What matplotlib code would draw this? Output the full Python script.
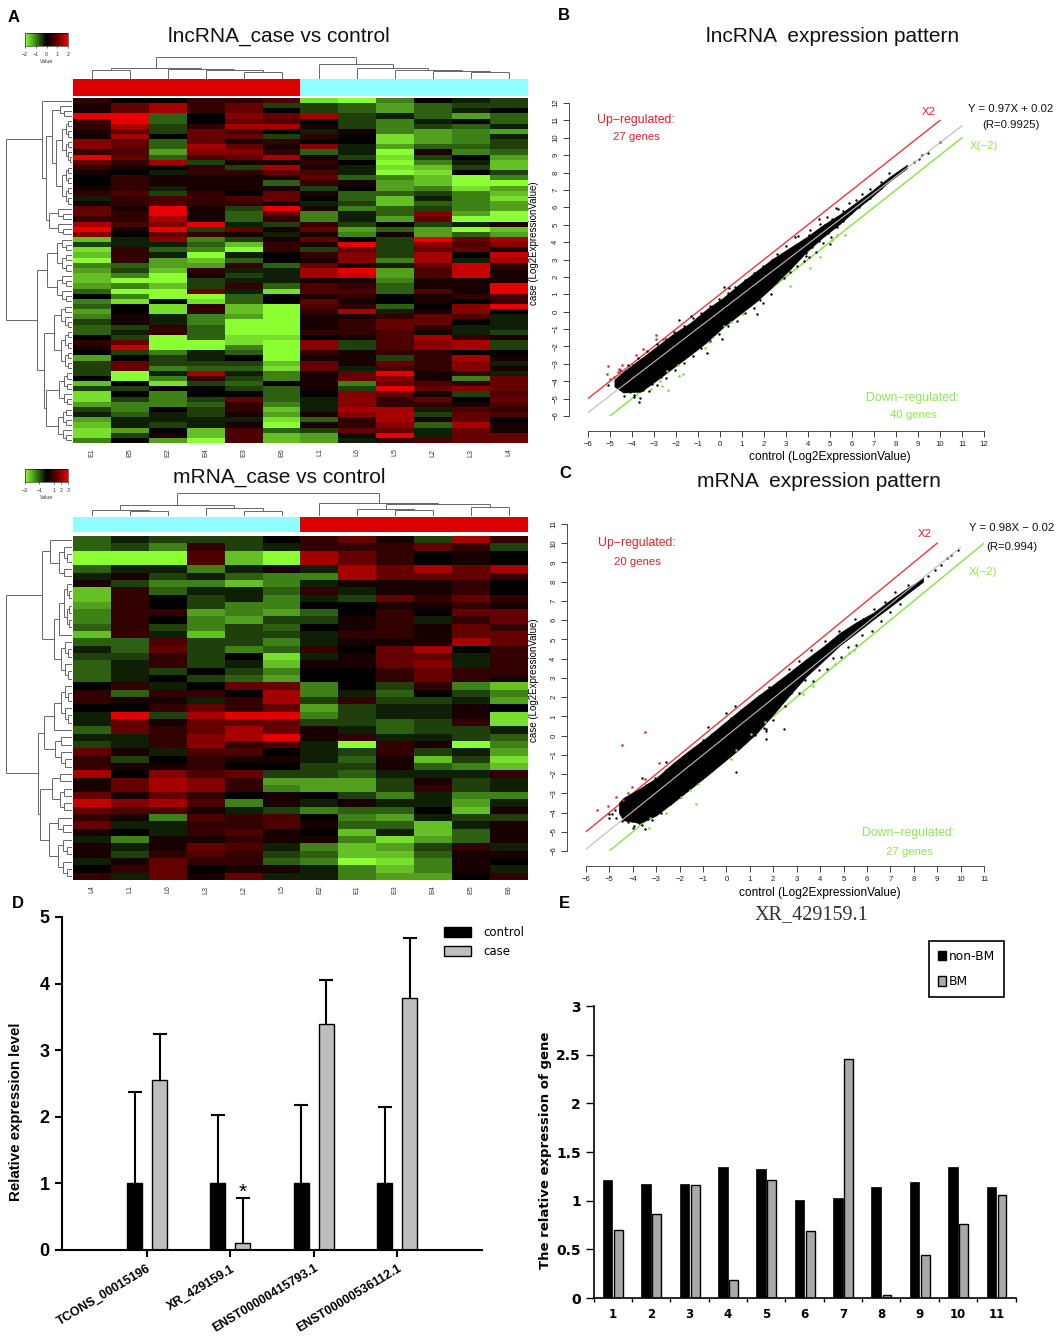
import numpy as np
import matplotlib
matplotlib.use("Agg")
import matplotlib.pyplot as plt
from matplotlib.colors import LinearSegmentedColormap, ListedColormap, Normalize
from matplotlib.cm import ScalarMappable
from matplotlib.collections import LineCollection
from matplotlib.patches import Patch

plt.rcParams['font.family'] = ['Liberation Sans', 'DejaVu Sans']

W, H = 1057, 1339

# ---------------- heatmap data (scale -4 .. 4) ----------------
cols_a = ['E1','E5','E2','E4','E3','E6','L1','L6','L5','L2','L3','L4']
cols_b = ['L4','L1','L6','L3','L2','L5','E2','E1','E3','E4','E5','E6']
groups_a = [0]*6 + [1]*6
groups_b = [1]*6 + [0]*6

heat_a = [
[1,0,0,1,1,1.5,-3.5,-4,-2,0,-.5,-1],
[.5,2,3,1,2,-1,-1,-1.5,-2.5,-1.5,-1,-1],
[.5,2,3,1,2,0,-1,-1.5,-2.5,-1.5,-.5,0],
[4,4,-1.5,0,2.5,2,3,-1,-.5,-1.5,-2.5,-1.5],
[1,4,-1.5,0,2,1.5,0,-1,-2,-.5,0,-1.5],
[1,3,-1,1,3,3,.5,-1,-2,-1,-1.5,-.5],
[.5,2,-1,2,1.5,0,-.5,.5,-2,-2.5,-2,-2.5],
[.5,3,0,2,2,-1,1,0,-3.5,-2.5,-2,-.5],
[2.5,2,-1.5,2,.5,1,0,0,-3.5,-2.5,-2,-1],
[2.5,2,-1.5,3,2,.5,2.5,-.5,-2.5,-1.5,-1.5,-1],
[1,1.5,-2.5,2.5,2.5,1,-1.5,-.5,-4,.5,-2,-1.5],
[4,2,-1.5,1.5,2,3,.5,-1,-3.5,-1,0,-2.5],
[2,1,3,-1,.5,.5,1,0,-4,-2,-.5,-3],
[1,.5,0,1,-1,3,.5,-.5,-3.5,-3,-1,-3],
[.5,0,-.5,1,1,2,1.5,-.5,-4,-3.5,0,-1],
[0,1,.5,.5,.5,.5,2,-1.5,-2,-3,-4,-2],
[0,1,.5,.5,.5,-1.5,1,.5,-2.5,-3,-4,-4],
[.5,1,-.5,.5,.5,.5,-1,0,-2.5,-2,-3.5,-2.5],
[1,1.5,-1,1,0,2,.5,-1.5,-1.5,-1,-2,-3],
[-.5,1,1.5,1,1.5,2,0,-1.5,-3,-.5,-2,-3.5],
[.5,1,1.5,1,1,.5,-.5,-1,-3,-1.5,-2,-2.5],
[2,.5,4,.5,-1,4,.5,-2,-1.5,-1,-2,-2.5],
[2,1,4,.5,-1.5,2,-2,-.5,-1.5,2.5,-2.5,-4],
[1,1,3,.5,-1.5,1,-2,-.5,-2.5,2,-4,-4],
[3,1.5,2.5,4,-.5,-1,1,-1,0,-1,-.5,.5],
[4,.5,4,-1,2,.5,2,-2.5,-1.5,-2.5,-4,-3],
[2.5,0,2,1,.5,-.5,.5,-2,.5,-2.5,-1.5,-2.5],
[-3,-.5,2.5,-2,-1,.5,2,0,-1,4,2,3],
[-1,-.5,-.5,-1.5,-3,1,.5,4,-1,2.5,1.5,2.5],
[-3.5,1,-1.5,-2,-4,1,-1,2,-1,2,2,.5],
[-3,1,-.5,-4,-.5,0,1,2.5,-1,3,0,3.5],
[-4,1,-2.5,-3,-1.5,0,.5,2.5,-2,3,-.5,3],
[-2,-1.5,-2.5,-2.5,1,-1.5,2,.5,-.5,2,3.5,1],
[-2.5,-1,-3,1,-.5,-.5,3,4,-2.5,1.5,3.5,.5],
[-3,-2,-4,.5,-1,-.5,3,3.5,-2.5,1.5,3.5,.5],
[-3,-4,-4,-1,-.5,-.5,.5,.5,-2,.5,.5,.5],
[-2.5,-2,-3,-1,1,-1.5,1.5,1,-1.5,.5,.5,4],
[-1.5,-4,-4,2,-.5,-3.5,1.5,1.5,-1.5,1.5,.5,4],
[0,-2,-4,-4,-1.5,0,.5,1,0,.5,1,1.5],
[-2,-3.5,0,-3.5,-1.5,0,2,.5,0,.5,0,1],
[-1.5,0,-3.5,1,-3,-4,1.5,1,-1.5,0,2.5,4],
[-2.5,0,-3.5,1,-3,-4,1,3,-.5,.5,2.5,0],
[-2,.5,-.5,-2,-2.5,-4,.5,.5,1,2,1.5,-.5],
[-1,.5,-.5,-2,-4,-4,.5,1,2,2,0,-.5],
[-1.5,-1,1,-1.5,-4,-4,.5,1,2,1,-.5,-.5],
[-1.5,-.5,1,-1.5,-4,-4,1,1,1.5,.5,-.5,-1],
[0,-1,-4,-1.5,-3.5,-3.5,0,.5,1.5,3,1,.5],
[1,2,-4,-4,-3.5,-4,2.5,-1,1.5,2.5,3,-1],
[.5,3.5,-4,-4,-2,-4,2.5,-1,1.5,2.5,3,-1],
[0,-1,-2,-.5,-1.5,-4,1,.5,1,1,0,0],
[-2.5,0,-1,-.5,0,-4,.5,.5,-1,1,3,.5],
[-1,2,-1,-1,-1,-3,2,.5,2,1,2.5,-.5],
[-1,2,-2,-1.5,-1.5,-3.5,2,-.5,1.5,1,2.5,.5],
[-1,-4,-.5,3,-.5,-2,.5,2,4,.5,1,-.5],
[0,-4,-2,1,-1,-2,.5,2,2.5,.5,-2,2],
[-3,0,-3.5,-1,-1.5,0,.5,-2,2,1.5,1,2],
[-1,-1,0,0,-1,-1.5,.5,-1,4,2,2.5,2],
[-3.5,0,-2,0,0,-1.5,0,2.5,2,.5,-1,1.5],
[-3.5,-1,-2,-1,2,-1.5,-.5,2.5,1,2,0,2],
[-2.5,-2,-2,-1.5,1,-2,-.5,2.5,1,1,.5,1.5],
[-1,-2,0,-1,1,-3,-.5,3,3,-.5,1.5,1],
[-.5,-1.5,-.5,-1,.5,-2.5,.5,2.5,3,-1,2,1.5],
[-2.5,-.5,-.5,-.5,-.5,-3.5,-1.5,1,3,.5,2,0],
[-3,-.5,-1,-.5,.5,-4,.5,1,2.5,-1.5,3,.5],
[-3.5,-2.5,0,-3,1.5,-1.5,-1,2,2,-.5,2,.5],
[-3.5,-1,.5,-3,1.5,-3,-2.5,.5,4,-.5,2,2],
[-2,0,-2.5,-4,1.5,-3,-2.5,-.5,1,1.5,2,2],
]

heat_b = [
[-1.5,-.5,-1,-1,-1,0,1,2,.5,-1,3,1],
[-1.5,-1,-2,1,-1,-.5,1,1,1,2,1,-1],
[-4,-4,-4,1.5,-3,-4,3,2,1,0,.5,0],
[-4,-4,-4,1.5,-3,-4,3,2,1,0,.5,0],
[-1.5,-.5,-.5,-2,-.5,.5,-.5,3,2,3,2,3],
[-.5,.5,-1,-.5,-1.5,-2,-2,3,2,2,2,1],
[.5,-1,-2,-2,-3,-2,-.5,.5,.5,.5,1,0],
[-3,1,-1.5,-.5,-.5,-1.5,1,-.5,.5,.5,1,0],
[-3,1,0,-1,-.5,-2,-.5,-1,2,1,2,1],
[-2.5,1,0,-1,-2,-2,0,0,.5,.5,1,.5],
[-2,1,1,-2.5,-2,-2.5,-1.5,0,1,0,2,2],
[-2,1,0,-2,-2.5,-1,-1,.5,1,-.5,1,2],
[-1.5,1,-1,-2,-1,-1.5,0,.5,1,.5,2,1],
[-3,1,-.5,-3,-1,-1,-.5,1,1,.5,2,2],
[-1.5,-1.5,1.5,-1,-1,-2,-.5,.5,.5,.5,3,2],
[-.5,-1.5,2,-1,-2,-1.5,1,0,2,3,0,1],
[-1,-1,1,-1,0,-3.5,-.5,.5,2,2,-.5,1],
[-1.5,-.5,1,-1,-.5,-3,.5,.5,2,2.5,-.5,1],
[-1.5,-.5,-1,0,-1,-2,0,0,1,2,1,1],
[-1.5,-.5,0,-1,-1.5,-2.5,0,0,1,2,1,.5],
[0,1,-.5,0,2,2,-2,0,-1,1,-2,-3],
[1,-1.5,1,1,0,3,-2,-.5,-1.5,0,-1,-2],
[1,.5,.5,-.5,1,3,-1,1,-1,-1,-.5,-2.5],
[0,0,1,2,1,2,-2.5,-1,-.5,-.5,.5,0],
[-.5,4,-1,3,4,4,-2,-1,-.5,-.5,.5,-3.5],
[-.5,2,.5,2,2,2,-1,-1,-1.5,-1,1,-3.5],
[-1.5,2,1,2,3,2,.5,-.5,-1.5,-1,-1,-.5],
[-.5,-.5,1,2.5,3,4,.5,1,-.5,-.5,-1,-1.5],
[-1,-.5,1,2.5,1,1.5,-.5,-4,1,.5,-4,-2],
[2,.5,-.5,1.5,1.5,0,-.5,-1,1,-1,-.5,-2.5],
[1,-1,0,1,.5,.5,-.5,-1.5,.5,-3,-1,-3.5],
[1,.5,.5,1,0,0,-1,-1,.5,-1.5,-2,-3],
[3,0,2.5,1.5,2,-1,-1,-1.5,-.5,-.5,-.5,1],
[.5,2,3,2.5,1,-2.5,-2.5,-2.5,-1,.5,-1,-.5],
[.5,2,3,2.5,1,-2,-2.5,-2.5,-1,1,-1,-.5],
[2,.5,2,1,0,.5,0,-1,-2,-.5,-2,-2],
[3.5,2.5,3,1.5,-2,.5,-.5,.5,-.5,-.5,-2.5,-.5],
[2,1.5,1.5,.5,-.5,-1,-2,-1.5,-1.5,0,-3,.5],
[1,.5,-2,1.5,1,1.5,0,-2,-2.5,-.5,-1,-1],
[2,-.5,-.5,1,1,1.5,.5,-1.5,-1.5,-3,-.5,.5],
[.5,0,-.5,1,1.5,.5,0,-3,-.5,-3,-1.5,.5],
[-.5,-2,.5,.5,1,.5,.5,-2,-3.5,-2.5,-1.5,.5],
[.5,-.5,.5,2,1.5,-.5,-2,-3,-2.5,-1,1,-.5],
[.5,-1,1,1.5,1,-1,-1.5,-3,-3,-1.5,.5,.5],
[-.5,.5,2,1,1,-1.5,-2,-4,-3.5,-2,.5,0],
[0,1,2,0,.5,.5,-.5,-2,-3,-2,.5,-.5],
[1,-.5,2,.5,2,-.5,-.5,-2,-2.5,-2.5,0,1],
]

# dendrograms: [height, left, right]; an integer is a block of that many leaves
col_tree_a = [1, [.52,[.41,1,1],[.47,1,[.41,1,[.34,1,1]]]],
                 [.71,1,[.49,1,[.41,1,[.37,1,[.31,1,1]]]]]]
col_tree_b = [1, [.47,[.26,1,[.2,1,1]],[.36,1,[.21,1,1]]],
                 [.57,1,[.54,[.33,1,[.26,1,1]],[.4,1,1]]]]
row_tree_a = [1, [.45, 1, [.4, [.3, 3, [.25, 9, 8]], [.35, 3, 3]]],
                 [.53, [.38, 7, 6], [.42, [.28, 5, 8], [.4, [.2, 4, 3], [.22, 4, 3]]]]]
row_tree_b = [1, [.45, [.33, 1, [.2, 3, 2]], [.27, [.2, 7, 1], 6]],
                 [.52, [.42, [.28, 6, 1], 5], [.48, [.3, 2, 4], [.35, 3, 6]]]]

# ---------------- scatter data: dense core outline and individually read points ----------------
band_b_x  = [-4.8,-4.4,-3.6,-2.88,-2.1,-1.36,-.6,.14,.9,1.67,2.4,3.2,3.94,4.7,5.45,6.2,6.95,7.7,8.5]
band_b_up = [-3.9,-3.45,-2.7,-2.0,-1.25,-.65,.15,.8,1.6,2.35,3.05,3.7,4.3,5.0,5.6,6.3,7.0,7.75,8.45]
band_b_lo = [-4.3,-4.65,-4.6,-3.95,-3.2,-2.5,-1.75,-.9,-.15,.6,1.45,2.45,3.45,4.3,5.05,5.9,6.65,7.5,8.25]
fringe_b_up_x = [-4.55,-4.3,-4.2,-3.95,-3.75,-3.55,-3.3,-3.15,-2.85,-2.7,-2.45,-2.3,-2.1,-1.95,-1.65,-1.5,-1.25,-1.1,-.85,-.75,-.45,-.3,-.05,.1,.35,.55,.7,.95,1.15,1.3,1.55,1.7,1.95,2.1,2.35,2.6,2.85,3,3.2,3.45,3.55,3.8,4.05,4.1,4.35,4.55,4.75,4.85,5.1,5.35,5.6,5.85,6.2,6.45,6.8,7.3,7.7]
fringe_b_up_y = [-3.35,-3.45,-3.05,-3.05,-2.65,-2.75,-2.25,-2.35,-1.85,-2.0,-1.55,-1.6,-1.15,-1.4,-.8,-.95,-.35,-.6,-.1,-.2,.3,.1,.7,.5,1.1,.95,1.4,1.35,1.8,1.65,2.25,2.05,2.6,2.45,2.95,3.3,3.2,3.75,3.5,3.85,4.35,4.15,4.4,4.7,4.6,5.05,5,5.45,5.35,5.9,5.8,6.25,6.4,6.75,7.05,7.45,7.95]
fringe_b_lo_x = [-4.35,-4.1,-3.9,-3.65,-3.5,-3.25,-3.1,-2.85,-2.7,-2.45,-2.3,-2.05,-1.9,-1.65,-1.5,-1.25,-1.1,-.85,-.7,-.45,-.3,-.05,.1,.35,.5,.75,.9,1.15,1.3,1.55,1.7,1.95,2.1,2.3,2.55,2.75,2.9,3.05,3.2,3.35,3.5,3.65,3.8,3.9,4.05,4.2,4.35,4.5,4.7,4.9,5.05,5.3,5.6,5.95,6.3,6.8,7.3]
fringe_b_lo_y = [-4.85,-4.6,-4.8,-4.95,-4.5,-4.55,-4.15,-4.2,-3.75,-3.8,-3.3,-3.35,-2.95,-2.95,-2.5,-2.55,-2.05,-2.1,-1.65,-1.7,-1.2,-1.3,-.75,-.8,-.35,-.55,-.05,-.1,.35,.2,.8,.5,1.2,1.0,1.7,2.2,1.95,2.55,2.3,2.9,2.6,3.2,2.9,3.4,3.15,3.7,3.45,4.05,3.95,4.5,4.3,4.85,5.2,5.65,6,6.55,7.1]
black_b_x = [-1.85,-1.3,.2,.4,5.25,3.4,4.5,10,9.45,9.05,1.8,1.7,.1,-.6,-3.7,-3.9,-5.1,8.8,9.2,5,3.9]
black_b_y = [-.5,-.25,1.4,1.35,5.95,4.3,5.35,9.75,9.15,8.8,.65,-.15,-1.55,-2.4,-5.2,-4.9,-4.2,8.6,9,3.9,3.2]
red_b_x = [-5.1,-5.15,-5,-4.8,-4.65,-4.45,-4.6,-2.9,-2.9,-3.5,-3.8,-2.6]
red_b_y = [-3.15,-3.6,-3.9,-3.75,-3.45,-3.05,-3.3,-1.35,-1.6,-2.15,-2.5,-1.55]
green_b_x = [3.2,4.1,4.55,5.7,5.3,5.1,1.05,.5,.2,-.7,-.5,-1.7,-1.85,-2.35,-2.65,-3.15,-1.9,-2.4,-2.75]
green_b_y = [1.45,2.5,3.15,4.4,4.4,4.1,-.15,-.6,-.85,-2.1,-1.75,-3.6,-3.7,-4.5,-4.3,-4.45,-3.05,-3.4,-4]

band_c_x  = [-4.6,-4.42,-3.7,-3,-2.3,-1.57,-.85,-.15,.55,1.27,2,2.7,3.43,4.15,4.85,5.55,6.28,7,7.7,8.4]
band_c_up = [-3.5,-3.25,-2.75,-2.2,-1.45,-.75,-.1,.6,1.3,2,2.65,3.3,4,4.65,5.35,5.9,6.4,7.05,7.65,8.2]
band_c_lo = [-4,-4.4,-4.55,-4.15,-3.5,-2.8,-2.1,-1.4,-.7,.1,1.1,2.1,3.1,3.9,4.7,5.35,6.05,6.7,7.35,8]
fringe_c_up_x = [-5,-4.75,-4.55,-4.3,-4.15,-3.9,-3.7,-3.45,-3.2,-3.05,-2.8,-2.6,-2.35,-2.2,-1.95,-1.8,-1.55,-1.4,-1.15,-1,-.75,-.6,-.35,-.2,.05,.2,.45,.6,.85,1,1.25,1.4,1.65,1.8,2.05,2.2,2.45,2.65,2.8,3.1,3.3,3.6,3.85,4.2,4.45,4.8,5.05,5.5,5.85,6.3,6.75,7.2,7.75]
fringe_c_up_y = [-4.1,-3.85,-3.75,-3.35,-3.4,-3.0,-3.05,-2.55,-2.55,-2.2,-2.1,-1.8,-1.75,-1.45,-1.35,-1.05,-1.0,-.65,-.65,-.25,-.3,.1,.1,.5,.55,.9,.95,1.35,1.35,1.65,1.7,2.05,2.1,2.55,2.5,2.8,2.8,3.45,3.1,3.9,3.6,4.45,4.2,4.9,4.7,5.45,5.35,6.05,6.05,6.6,6.95,7.45,7.85]
fringe_c_lo_x = [-4.7,-4.45,-4.2,-4,-3.75,-3.6,-3.35,-3.2,-2.95,-2.8,-2.55,-2.4,-2.15,-2,-1.75,-1.6,-1.35,-1.2,-.95,-.8,-.55,-.4,-.15,0,.25,.4,.65,.8,1.05,1.2,1.45,1.6,1.85,2,2.2,2.5,2.75,3.1,3.35,3.7,3.95,4.3,4.55,4.9,5.2,5.55,5.8,6.2,6.6,7,7.4]
fringe_c_lo_y = [-4.3,-4.45,-4.5,-4.8,-4.55,-4.65,-4.35,-4.4,-3.95,-4.0,-3.5,-3.55,-3.15,-3.2,-2.75,-2.75,-2.25,-2.3,-1.85,-1.85,-1.45,-1.5,-1.05,-1.0,-.55,-.7,-.2,-.3,.2,.05,.55,.4,1.0,.8,1.5,1.55,2.2,2.2,2.9,2.85,3.4,3.45,4.05,4.1,4.6,4.7,5.25,5.45,5.95,6.4,6.85]
black_c_x = [2.45,1.7,1.7,1.7,.4,-3.5,-3.95,9.9,9.4,.35,0,-.8,-2.6,-3.6,-4.9,-5.0,8.6,8.9,9.15,9.6]
black_c_y = [.35,.35,.25,-.2,-1.9,-4.85,-4.7,9.65,9.25,1.55,1.2,.45,-1.35,-2.2,-4.1,-4.3,8.3,8.6,8.85,9.4]
red_c_x = [-3.5,-4.45,-2.87,-5.53,-5.07,-4.7,-4.2,-4.05,-3.5,-4.4]
red_c_y = [.17,-.5,-1.4,-3.85,-3.65,-3.2,-3,-2.65,-2.25,-3.35]
green_c_x = [-1.3,-1.95,-2.6,-3.3,-3.25,.2,.4,1.05,1.65,3.7,5.25,5.45,4.65,3.25,-1.2,-1.55]
green_c_y = [-3.55,-3.2,-4.05,-4.8,-4.3,-1.2,-.75,.1,.7,2.6,4.3,4.45,3.7,2.15,-2.5,-2.85]

up_line_b_x, up_line_b_y = [-6, 10], [-5, 11]
down_line_b_x, down_line_b_y = [-5, 11], [-6, 10]
fit_line_b_x, fit_line_b_y = [-6, 11], [-5.8, 10.69]
up_line_c_x, up_line_c_y = [-6, 9], [-5, 10]
down_line_c_x, down_line_c_y = [-5, 11], [-6, 10]
fit_line_c_x, fit_line_c_y = [-6, 10], [-5.9, 9.78]

# ---------------- bar data ----------------
genes = ['TCONS_00015196', 'XR_429159.1', 'ENST00000415793.1', 'ENST00000536112.1']
control_vals = [1, 1, 1, 1]
control_tops = [2.37, 2.02, 2.17, 2.15]
case_vals = [2.55, 0.11, 3.39, 3.79]
case_tops = [3.25, 0.78, 4.06, 4.68]

patients = list(range(1, 12))
non_bm = [1.21,1.17,1.17,1.35,1.33,1.01,1.03,1.14,1.19,1.35,1.14]
bm = [.70,.86,1.16,.18,1.21,.69,2.46,.03,.44,.76,1.06]

# ---------------- helpers ----------------
fig = plt.figure(figsize=(W/100, H/100), dpi=100, facecolor='white')

def px_axes(l, t, r, b):
    return fig.add_axes([l/W, 1-b/H, (r-l)/W, (b-t)/H])

def ftext(x, y, s, **kw):
    kw.setdefault('ha', 'center')
    kw.setdefault('va', 'center')
    return fig.text(x/W, 1-y/H, s, **kw)

green_black_red = LinearSegmentedColormap.from_list(
    'gbr', [(0, '#8CFF33'), (.25, '#3F8218'), (.5, '#000000'), (.75, '#640000'), (1, '#E60000')])

def tree_segments(node, start, segs, parent_h=1.0):
    """Returns (centre, height, next free leaf)."""
    if isinstance(node, int):
        if node == 1:
            return start + .5, 0.0, start + 1
        h = parent_h * .62
        node = [h, node // 2, node - node // 2]
    h, a, b = node
    ca, ha, nxt = tree_segments(a, start, segs, h)
    cb, hb, nxt = tree_segments(b, nxt, segs, h)
    segs += [[(ca, ha), (ca, h)], [(cb, hb), (cb, h)], [(ca, h), (cb, h)]]
    return (ca + cb) / 2, h, nxt

def dendro(ax, tree, n, horizontal):
    segs = []
    tree_segments(tree, 0, segs)
    if horizontal:
        segs = [[(y, x) for x, y in s] for s in segs]
        ax.set_xlim(1.02, 0)
        ax.set_ylim(n, 0)
    else:
        ax.set_xlim(0, n)
        ax.set_ylim(0, 1.02)
    ax.add_collection(LineCollection(segs, colors='#666666', linewidths=.7))
    ax.axis('off')

def heat_panel(data, cols, groups, top_tree, row_tree, title, title_y, key_ticks,
               key_lim, key_top, dend_top, dend_bot, bar_top, bar_bot, hm_top, hm_bot):
    L, R = 73, 528
    ax = px_axes(L, hm_top, R, hm_bot)
    ax.imshow(np.array(data), cmap=green_black_red, vmin=-4, vmax=4,
              aspect='auto', interpolation='nearest')
    ax.set_yticks([])
    ax.set_xticks(range(12), cols, rotation=90, fontsize=5, color='#333333')
    ax.tick_params(axis='x', length=0, pad=4)
    for s in ax.spines.values():
        s.set_visible(False)

    axg = px_axes(L, bar_top, R, bar_bot)
    axg.imshow([groups], cmap=ListedColormap(['#DD0000', '#8FFFFF']), vmin=0, vmax=1,
               aspect='auto', interpolation='nearest')
    axg.axis('off')

    axd = px_axes(L, dend_top, R, dend_bot)
    dendro(axd, top_tree, 12, False)
    axr = px_axes(5, hm_top, L - 1, hm_bot)
    dendro(axr, row_tree, len(data), True)

    axk = px_axes(25, key_top, 68, key_top + 13)
    cb = fig.colorbar(ScalarMappable(Normalize(*key_lim), green_black_red), cax=axk,
                      orientation='horizontal', ticks=key_ticks)
    cb.ax.tick_params(labelsize=3.8, length=1.5, width=.4, pad=3, labelcolor='#333333')
    cb.outline.set_linewidth(.4)
    cb.set_label('Value', fontsize=3.8, labelpad=1.5, color='#333333')

    ftext(279, title_y, title, fontsize=15, color='#111111')

heat_panel(heat_a, cols_a, groups_a, col_tree_a, row_tree_a, 'lncRNA_case vs control', 36,
           [-2,-1,0,1,2], (-2,2), 33, 57, 79, 79, 96, 98, 443)
heat_panel(heat_b, cols_b, groups_b, col_tree_b, row_tree_b, 'mRNA_case vs control', 477,
           [-3,-1,1,2,3], (-3,3), 469, 493, 516, 517, 532, 536, 880)

def scatter_panel(box, lim, ticks, band, fringe_up, fringe_lo, blk, red, grn, up, down, fit, xoff, yoff):
    ax = px_axes(*box)
    ax.patch.set_alpha(0)
    ax.set_xlim(*lim)
    ax.set_ylim(*lim)
    ax.fill_between(band[0], band[1], band[2], color='black', lw=.4, zorder=2)
    for pts in (fringe_up, fringe_lo, blk):
        ax.scatter(*pts, s=3, c='black', lw=0, zorder=2)
    ax.scatter(*red, s=3.5, c='#E03030', lw=0, zorder=3)
    ax.scatter(*grn, s=3.5, c='#7FE040', lw=0, zorder=3)
    ax.plot(*up, color='#E8383C', lw=1, zorder=1)
    ax.plot(*down, color='#80E63C', lw=1, zorder=1)
    ax.plot(*fit, color='#BDBDBD', lw=.8, zorder=4)
    for s in ('top', 'right'):
        ax.spines[s].set_visible(False)
    ax.spines['bottom'].set_position(('outward', xoff * .72))
    ax.spines['left'].set_position(('outward', yoff * .72))
    ax.spines['bottom'].set_bounds(*lim)
    ax.spines['left'].set_bounds(*lim)
    for s in ('bottom', 'left'):
        ax.spines[s].set_linewidth(.6)
        ax.spines[s].set_color('#333333')
    labels = [str(t).replace('-', '\u2212') for t in ticks]
    ax.set_xticks(ticks, labels)
    ax.set_yticks(ticks, labels)
    ax.tick_params(axis='both', labelsize=5.6, length=4, width=.6, pad=3, colors='#222222')
    for t in ax.get_yticklabels():
        t.set_rotation(90)
        t.set_va('center')
    return ax

scatter_panel((588, 103, 984, 416), (-6, 12), list(range(-6, 13)),
              (band_b_x, band_b_up, band_b_lo),
              (fringe_b_up_x, fringe_b_up_y), (fringe_b_lo_x, fringe_b_lo_y),
              (black_b_x, black_b_y), (red_b_x, red_b_y), (green_b_x, green_b_y),
              (up_line_b_x, up_line_b_y), (down_line_b_x, down_line_b_y),
              (fit_line_b_x, fit_line_b_y), 15, 19)
scatter_panel((586, 524, 984, 851), (-6, 11), list(range(-6, 12)),
              (band_c_x, band_c_up, band_c_lo),
              (fringe_c_up_x, fringe_c_up_y), (fringe_c_lo_x, fringe_c_lo_y),
              (black_c_x, black_c_y), (red_c_x, red_c_y), (green_c_x, green_c_y),
              (up_line_c_x, up_line_c_y), (down_line_c_x, down_line_c_y),
              (fit_line_c_x, fit_line_c_y), 15, 19)

RED, GRN = '#E0202A', '#8CEB50'
for x, y, s, c in [
    (636,120,'Up\u2212regulated:',RED), (636,137,'27 genes',RED),
    (929,112,'X2',RED), (984,146,'X(\u22122)',GRN),
    (913,398,'Down\u2212regulated:',GRN), (913,415,'40 genes',GRN),
    (1011,109,'Y = 0.97X + 0.02','#111111'), (1011,125,'(R=0.9925)','#111111'),
    (637,543,'Up\u2212regulated:',RED), (637,562,'20 genes',RED),
    (925,534,'X2',RED), (983,572,'X(\u22122)',GRN),
    (909,833,'Down\u2212regulated:',GRN), (909,852,'27 genes',GRN),
    (1012,528,'Y = 0.98X \u2212 0.02','#111111'), (1012,547,'(R=0.994)','#111111')]:
    ftext(x, y, s, color=c, fontsize=8.8 if len(s) > 9 and s[0] in 'UD' else 8.2)

ftext(830, 457, 'control (Log2ExpressionValue)', fontsize=8.6)
ftext(820, 893, 'control (Log2ExpressionValue)', fontsize=8.6)
ftext(534, 243, 'case (Log2ExpressionValue)', fontsize=7, rotation=90)
ftext(534, 680, 'case (Log2ExpressionValue)', fontsize=7, rotation=90)
ftext(833, 36, 'lncRNA  expression pattern', fontsize=15, color='#111111')
ftext(819, 481, 'mRNA  expression pattern', fontsize=15, color='#111111')

for x, y, s in [(14,17,'A'), (564,16,'B'), (565,474,'C'), (18,904,'D'), (564,904,'E')]:
    ftext(x, y, s, fontsize=12, fontweight='bold')

# ---------------- panel D ----------------
axd = px_axes(62, 917, 482, 1250)
x = np.arange(len(genes))
off, bw = .15, .18
for xs, vals, tops, col in ((x - off, control_vals, control_tops, 'black'),
                            (x + off, case_vals, case_tops, '#BEBEBE')):
    axd.bar(xs, vals, bw, color=col, edgecolor='black', lw=1, zorder=2)
    axd.vlines(xs, vals, tops, color='black', lw=1.5, zorder=1)
    axd.plot(xs, tops, ls='', marker='_', ms=9.5, mew=1.5, color='black')
axd.text(1 + off, case_tops[1] - .05, '*', fontsize=15, ha='center', va='bottom')
axd.set_xlim(-1.02, 4.02)
axd.set_ylim(0, 5)
axd.set_xticks(x, genes, rotation=31, ha='right', rotation_mode='anchor', fontsize=9, fontweight='bold')
axd.set_yticks(range(6))
axd.tick_params(axis='y', labelsize=13, width=1.5, length=5, pad=4)
axd.tick_params(axis='x', width=1.5, length=5, pad=4)
for t in axd.get_yticklabels():
    t.set_fontweight('bold')
for s in ('top', 'right'):
    axd.spines[s].set_visible(False)
for s in ('left', 'bottom'):
    axd.spines[s].set_linewidth(1.5)
ftext(16, 1112, 'Relative expression level', rotation=90, fontsize=10.8, fontweight='bold')
axd.legend(handles=[Patch(fc='black', ec='black', label='control'),
                    Patch(fc='#BEBEBE', ec='black', label='case')],
           loc='upper left', bbox_to_anchor=(433/W, 1-915/H), bbox_transform=fig.transFigure,
           frameon=False, handlelength=2.3, handleheight=.93, handletextpad=1.1,
           labelspacing=.55, prop={'family': 'DejaVu Sans', 'size': 8.5})

# ---------------- panel E ----------------
axe = px_axes(593.5, 1006, 1015.5, 1298)
p = np.array(patients)
axe.bar(p - .13, non_bm, .25, color='black', edgecolor='black', lw=.5)
axe.bar(p + .15, bm, .23, color='#A8A8A8', edgecolor='black', lw=1)
axe.set_xlim(.5, 11.5)
axe.set_ylim(0, 3)
axe.set_xticks(p, [str(i) for i in patients], fontsize=8.5, fontweight='bold', family='DejaVu Sans')
axe.set_xticks(np.arange(.5, 12), minor=True)
axe.tick_params(axis='x', which='major', length=0, pad=7)
axe.tick_params(axis='x', which='minor', length=3, width=1)
axe.set_yticks([0, .5, 1, 1.5, 2, 2.5, 3], ['0', '0.5', '1', '1.5', '2', '2.5', '3'])
axe.tick_params(axis='y', labelsize=10, width=1, length=6, pad=3)
for t in axe.get_yticklabels():
    t.set_fontweight('bold')
    t.set_family('DejaVu Sans')
for s in ('top', 'right'):
    axe.spines[s].set_visible(False)
for s in ('left', 'bottom'):
    axe.spines[s].set_linewidth(1.2)
ftext(546, 1150, 'The relative expression of gene', rotation=90, fontsize=9.5,
      fontweight='bold', family='DejaVu Sans')
ftext(811, 915, 'XR_429159.1', fontsize=14.5, family='Liberation Serif', color='#333333')
leg = axe.legend(handles=[Patch(fc='black', ec='black', label='non-BM'),
                          Patch(fc='#A8A8A8', ec='black', label='BM')],
                 loc='upper left', bbox_to_anchor=(929/W, 1-941/H), bbox_transform=fig.transFigure,
                 fancybox=False, edgecolor='black', framealpha=1, handlelength=.68, handleheight=.85,
                 handletextpad=.25, labelspacing=1, borderpad=.72, borderaxespad=0,
                 prop={'family': 'DejaVu Sans', 'size': 8.8})
leg.get_frame().set_linewidth(1.2)

fig.savefig('out.png', dpi=100)
